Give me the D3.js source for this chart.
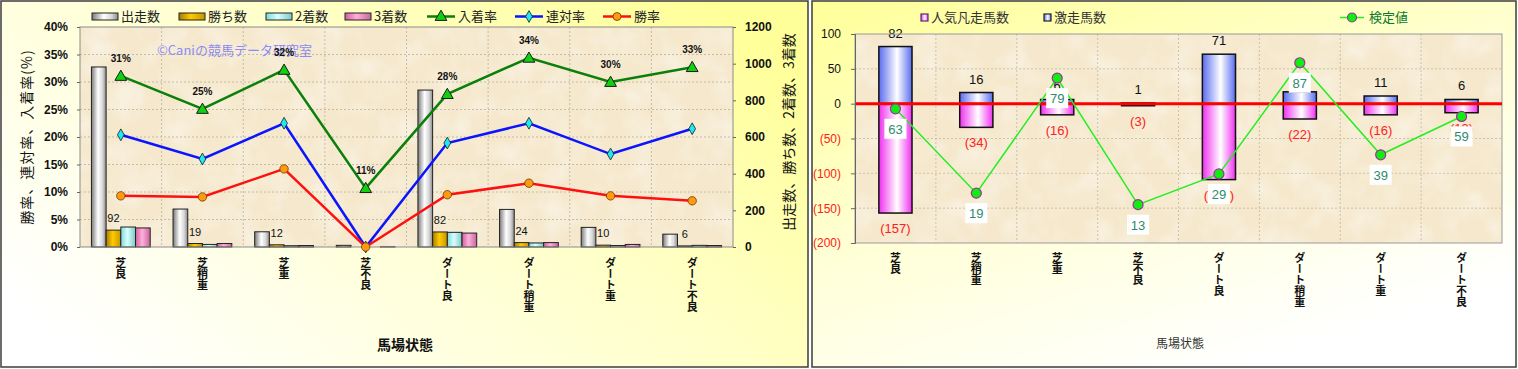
<!DOCTYPE html>
<html>
<head>
<meta charset="utf-8">
<script src="https://cdn.jsdelivr.net/npm/d3@7/dist/d3.min.js"></script>
<style>
  body { margin: 0; background: #ffffff; }
  svg { display: block; }
  text { font-family: "Noto Sans CJK JP", "Liberation Sans", sans-serif; }
  .num { font-family: "Liberation Sans", Arial, sans-serif; }
</style>
</head>
<body>
<svg id="drawing" width="1518" height="369"></svg>
<script>
// categories (馬場状態)
var categories = ["芝良", "芝稍重", "芝重", "芝不良", "ダート良", "ダート稍重", "ダート重", "ダート不良"];

// left chart: counts (right axis)
var runs   = [982, 207, 83, 9, 856, 205, 107, 70];
var wins   = [92, 19, 12, 0, 82, 24, 10, 6];
var second = [109, 14, 7, 0, 80, 22, 8, 9];
var third  = [104, 19, 8, 1, 76, 24, 14, 8];

// left chart: rates (left axis)
var placeRate  = [0.311, 0.251, 0.322, 0.107, 0.278, 0.344, 0.300, 0.327];
var rentaiRate = [0.204, 0.160, 0.225, 0.000, 0.189, 0.225, 0.169, 0.215];
var winRate    = [0.093, 0.091, 0.142, 0.000, 0.095, 0.116, 0.093, 0.084];

var leftTicks  = [0, 0.05, 0.10, 0.15, 0.20, 0.25, 0.30, 0.35, 0.40];
var rightTicks = [0, 200, 400, 600, 800, 1000, 1200];

// right chart
var gekisou = [82, 16, 6, 1, 71, 17, 11, 6];      // 激走馬数
var bonsou  = [157, 34, 16, 3, 109, 22, 16, 13];  // 人気凡走馬数
var kentei  = [63, 19, 79, 13, 29, 87, 39, 59];   // 検定値
var diffTicks = [-200, -150, -100, -50, 0, 50, 100];

var svg = d3.select("#drawing");
var defs = svg.append("defs");

function hGradient(id, stops)
{
  var g = defs.append("linearGradient").attr("id", id)
    .attr("x1", "0").attr("y1", "0").attr("x2", "1").attr("y2", "0");
  stops.forEach(function(s){
    g.append("stop").attr("offset", s[0]).attr("stop-color", s[1]);
  });
}

hGradient("gRuns",   [[0, "#7a7a7a"], [0.45, "#ffffff"], [0.75, "#d8d8d8"], [1, "#8a8a8a"]]);
hGradient("gWins",   [[0, "#a87a00"], [0.45, "#ffcc00"], [1, "#c89400"]]);
hGradient("gSecond", [[0, "#7fd8d8"], [0.45, "#d8ffff"], [1, "#7cc8c8"]]);
hGradient("gThird",  [[0, "#d0609c"], [0.45, "#ffb0dc"], [1, "#c8659a"]]);
hGradient("gBlue",   [[0, "#5a6cf0"], [0.55, "#ffffff"], [1, "#5a6cf0"]]);
hGradient("gPink",   [[0, "#f030f0"], [0.55, "#ffffff"], [1, "#f030f0"]]);

var lg = defs.append("linearGradient").attr("id", "bgLeft")
  .attr("x1", "0").attr("y1", "0.8").attr("x2", "1").attr("y2", "0.2");
lg.append("stop").attr("offset", 0).attr("stop-color", "#ffffff");
lg.append("stop").attr("offset", 0.6).attr("stop-color", "#ffffc8");
lg.append("stop").attr("offset", 1).attr("stop-color", "#ffff99");

var rg = defs.append("linearGradient").attr("id", "bgRight")
  .attr("x1", "0").attr("y1", "0").attr("x2", "0.6").attr("y2", "1");
rg.append("stop").attr("offset", 0).attr("stop-color", "#ffff99");
rg.append("stop").attr("offset", 0.55).attr("stop-color", "#ffffd8");
rg.append("stop").attr("offset", 1).attr("stop-color", "#ffffff");

// parchment texture for plot areas
var paper = defs.append("filter").attr("id", "paper").attr("x", 0).attr("y", 0).attr("width", 1).attr("height", 1);
paper.append("feTurbulence").attr("type", "fractalNoise").attr("baseFrequency", "0.035").attr("numOctaves", 3).attr("seed", 4);
paper.append("feColorMatrix").attr("type", "matrix")
  .attr("values", "0 0 0 0 1  0 0 0 0 1  0 0 0 0 1  2.2 0 0 0 -0.9");

// panels
svg.append("rect").attr("x", 1).attr("y", 1).attr("width", 807).attr("height", 366)
  .attr("fill", "url(#bgLeft)").attr("stroke", "#3c3c3c").attr("stroke-width", 1.5);
svg.append("rect").attr("x", 812).attr("y", 1).attr("width", 704).attr("height", 366)
  .attr("fill", "url(#bgRight)").attr("stroke", "#3c3c3c").attr("stroke-width", 1.5);

function plotArea(x0, y0, x1, y1)
{
  svg.append("rect").attr("x", x0).attr("y", y0).attr("width", x1 - x0).attr("height", y1 - y0)
    .attr("fill", "#f5e8cc");
  svg.append("rect").attr("x", x0).attr("y", y0).attr("width", x1 - x0).attr("height", y1 - y0)
    .attr("filter", "url(#paper)").attr("opacity", 0.4);
}

function vLabels(xs, yTop, size)
{
  svg.append("g").selectAll("text").data(categories).enter().append("text")
    .attr("x", function(d){ return xs(d) + xs.bandwidth() / 2; })
    .attr("y", yTop)
    .attr("style", "writing-mode: vertical-rl; font-weight: bold; font-size:" + size + "px")
    .attr("fill", "#111")
    .text(function(d){ return d; });
}

// ---------------- left chart ----------------
var L = { x0: 80, x1: 733, y0: 27, y1: 247 };
plotArea(L.x0, L.y0, L.x1, L.y1);

var x = d3.scaleBand().domain(categories).range([L.x0, L.x1]);
var yPct = d3.scaleLinear().domain([0, 0.4]).range([L.y1, L.y0]);
var yCnt = d3.scaleLinear().domain([0, 1200]).range([L.y1, L.y0]);

var bw = x.bandwidth();
var barKeys = ["runs", "wins", "second", "third"];
var barData = { runs: runs, wins: wins, second: second, third: third };
var barFill = { runs: "url(#gRuns)", wins: "url(#gWins)", second: "url(#gSecond)", third: "url(#gThird)" };
var sub = d3.scaleBand().domain(barKeys).range([bw * 0.14, bw * 0.86]);

// grid
svg.append("g").selectAll("line").data(leftTicks.slice(1, -1)).enter().append("line")
  .attr("x1", L.x0).attr("x2", L.x1)
  .attr("y1", function(d){ return yPct(d); }).attr("y2", function(d){ return yPct(d); })
  .attr("stroke", "#b8b0a0").attr("stroke-dasharray", "2,2").attr("stroke-width", 0.8);
svg.append("g").selectAll("line").data(categories.slice(1)).enter().append("line")
  .attr("x1", function(d){ return x(d); }).attr("x2", function(d){ return x(d); })
  .attr("y1", L.y0).attr("y2", L.y1)
  .attr("stroke", "#b8b0a0").attr("stroke-dasharray", "2,2").attr("stroke-width", 0.8);

// bars
barKeys.forEach(function(k){
  svg.append("g").selectAll("rect").data(barData[k]).enter().append("rect")
    .attr("x", function(d, i){ return x(categories[i]) + sub(k); })
    .attr("width", sub.bandwidth())
    .attr("y", function(d){ return yCnt(d); })
    .attr("height", function(d){ return L.y1 - yCnt(d); })
    .attr("fill", barFill[k]).attr("stroke", "#222").attr("stroke-width", 1);
});

// win count labels
var winLabels = wins.map(function(d, i){ return { v: d, cat: categories[i] }; })
  .filter(function(d){ return d.v > 0; });
svg.append("g").selectAll("text").data(winLabels).enter().append("text")
  .attr("class", "num")
  .attr("x", function(d){ return x(d.cat) + sub("wins") + sub.bandwidth() / 2; })
  .attr("y", function(d){ return yCnt(d.v) - 8; })
  .attr("text-anchor", "middle").attr("font-size", 11).attr("fill", "#111")
  .text(function(d){ return d.v; });

svg.append("rect").attr("x", L.x0).attr("y", L.y0).attr("width", L.x1 - L.x0).attr("height", L.y1 - L.y0)
  .attr("fill", "none").attr("stroke", "#8c8c8c").attr("stroke-width", 1);

// watermark
svg.append("text").attr("x", 157).attr("y", 55).attr("font-size", 13).attr("fill", "#8c8cf4")
  .text("©Caniの競馬データ研究室");

// lines
var cx = function(i){ return x(categories[i]) + bw / 2; };
var lineGen = d3.line().x(function(d, i){ return cx(i); }).y(function(d){ return yPct(d); });

svg.append("path").datum(placeRate).attr("d", lineGen).attr("fill", "none").attr("stroke", "#0a800a").attr("stroke-width", 2.5);
svg.append("path").datum(rentaiRate).attr("d", lineGen).attr("fill", "none").attr("stroke", "#0a14ff").attr("stroke-width", 2.5);
svg.append("path").datum(winRate).attr("d", lineGen).attr("fill", "none").attr("stroke", "#ff1010").attr("stroke-width", 2.5);

var tri = d3.symbol().type(d3.symbolTriangle).size(60);
var dia = d3.symbol().type(d3.symbolDiamond).size(40);

svg.append("g").selectAll("path").data(placeRate).enter().append("path")
  .attr("d", tri).attr("transform", function(d, i){ return "translate(" + cx(i) + "," + (yPct(d) + 1) + ")"; })
  .attr("fill", "#10d010").attr("stroke", "#1a1a1a").attr("stroke-width", 1);
svg.append("g").selectAll("path").data(rentaiRate).enter().append("path")
  .attr("d", dia).attr("transform", function(d, i){ return "translate(" + cx(i) + "," + yPct(d) + ")"; })
  .attr("fill", "#20e8f0").attr("stroke", "#1a1a1a").attr("stroke-width", 0.8);
svg.append("g").selectAll("circle").data(winRate).enter().append("circle")
  .attr("cx", function(d, i){ return cx(i); }).attr("cy", function(d){ return yPct(d); }).attr("r", 4.2)
  .attr("fill", "#ff9a10").attr("stroke", "#6a3a00").attr("stroke-width", 0.8);

// place rate labels
svg.append("g").selectAll("text").data(placeRate).enter().append("text")
  .attr("class", "num")
  .attr("x", function(d, i){ return cx(i); }).attr("y", function(d){ return yPct(d) - 14; })
  .attr("text-anchor", "middle").attr("font-size", 10).attr("font-weight", "bold").attr("fill", "#111")
  .text(function(d){ return d3.format(".0%")(d); });

// axes
var axL = svg.append("g").attr("transform", "translate(" + L.x0 + ",0)")
  .call(d3.axisLeft(yPct).tickValues(leftTicks).tickFormat(d3.format(".0%")).tickSize(3).tickPadding(9));
axL.select(".domain").remove();
axL.selectAll("text").attr("class", "num").attr("font-size", 12).attr("font-weight", "bold").attr("fill", "#111");
axL.selectAll("line").attr("stroke", "#666");

var axR = svg.append("g").attr("transform", "translate(" + L.x1 + ",0)")
  .call(d3.axisRight(yCnt).tickValues(rightTicks).tickFormat(d3.format("d")).tickSize(3).tickPadding(9));
axR.select(".domain").remove();
axR.selectAll("text").attr("class", "num").attr("font-size", 12).attr("font-weight", "bold").attr("fill", "#111");
axR.selectAll("line").attr("stroke", "#666");

vLabels(x, 257, 11);

svg.append("text").attr("transform", "translate(32,137) rotate(-90)").attr("text-anchor", "middle")
  .attr("font-size", 14).attr("letter-spacing", 1).attr("fill", "#111").text("勝率、連対率、入着率(%)");
svg.append("text").attr("transform", "translate(794,132) rotate(-90)").attr("text-anchor", "middle")
  .attr("font-size", 14).attr("fill", "#111").text("出走数、勝ち数、2着数、3着数");
svg.append("text").attr("x", 405).attr("y", 350).attr("text-anchor", "middle")
  .attr("font-size", 14).attr("font-weight", "bold").attr("fill", "#111").text("馬場状態");

// legend (left)
var legBars = [
  { x: 92,  fill: "url(#gRuns)",   label: "出走数" },
  { x: 179, fill: "url(#gWins)",   label: "勝ち数" },
  { x: 266, fill: "url(#gSecond)", label: "2着数" },
  { x: 345, fill: "url(#gThird)",  label: "3着数" }
];
legBars.forEach(function(d){
  svg.append("rect").attr("x", d.x).attr("y", 13).attr("width", 26).attr("height", 7)
    .attr("fill", d.fill).attr("stroke", "#222").attr("stroke-width", 1);
  svg.append("text").attr("x", d.x + 29).attr("y", 21).attr("font-size", 13).attr("fill", "#222").text(d.label);
});
var legLines = [
  { x: 427, stroke: "#0a800a", label: "入着率", mark: "tri" },
  { x: 515, stroke: "#0a14ff", label: "連対率", mark: "dia" },
  { x: 603, stroke: "#ff1010", label: "勝率",   mark: "dot" }
];
legLines.forEach(function(d){
  svg.append("line").attr("x1", d.x).attr("x2", d.x + 28).attr("y1", 16.5).attr("y2", 16.5)
    .attr("stroke", d.stroke).attr("stroke-width", 2.5);
  if( d.mark == "tri" )
    svg.append("path").attr("d", tri).attr("transform", "translate(" + (d.x + 14) + ",17)")
      .attr("fill", "#10d010").attr("stroke", "#1a1a1a").attr("stroke-width", 1);
  else if( d.mark == "dia" )
    svg.append("path").attr("d", dia).attr("transform", "translate(" + (d.x + 14) + ",16.5)")
      .attr("fill", "#20e8f0").attr("stroke", "#1a1a1a").attr("stroke-width", 0.8);
  else
    svg.append("circle").attr("cx", d.x + 14).attr("cy", 16.5).attr("r", 4)
      .attr("fill", "#ff9a10").attr("stroke", "#6a3a00").attr("stroke-width", 0.8);
  svg.append("text").attr("x", d.x + 31).attr("y", 21).attr("font-size", 13).attr("fill", "#222").text(d.label);
});

// ---------------- right chart ----------------
var R = { x0: 855, x1: 1502, y0: 34, y1: 243 };
plotArea(R.x0, R.y0, R.x1, R.y1);

var x2 = d3.scaleBand().domain(categories).range([R.x0, R.x1]);
var yDiff = d3.scaleLinear().domain([-200, 100]).range([R.y1, R.y0]);
var yK = d3.scaleLinear().domain([-7, 102]).range([R.y1, R.y0]); // hidden secondary axis
var bw2 = x2.bandwidth();
var barW2 = bw2 * 0.41;
var cx2 = function(i){ return x2(categories[i]) + bw2 / 2; };

svg.append("g").selectAll("line").data(diffTicks.slice(1, -1)).enter().append("line")
  .attr("x1", R.x0).attr("x2", R.x1)
  .attr("y1", function(d){ return yDiff(d); }).attr("y2", function(d){ return yDiff(d); })
  .attr("stroke", "#c0b8a8").attr("stroke-dasharray", "2,2").attr("stroke-width", 0.8);
svg.append("g").selectAll("line").data(categories.slice(1)).enter().append("line")
  .attr("x1", function(d){ return x2(d); }).attr("x2", function(d){ return x2(d); })
  .attr("y1", R.y0).attr("y2", R.y1)
  .attr("stroke", "#c0b8a8").attr("stroke-dasharray", "2,2").attr("stroke-width", 0.8);

svg.append("g").selectAll("rect").data(gekisou).enter().append("rect")
  .attr("x", function(d, i){ return cx2(i) - barW2 / 2; }).attr("width", barW2)
  .attr("y", function(d){ return yDiff(d); })
  .attr("height", function(d){ return yDiff(0) - yDiff(d); })
  .attr("fill", "url(#gBlue)").attr("stroke", "#111").attr("stroke-width", 1.5);
svg.append("g").selectAll("rect").data(bonsou).enter().append("rect")
  .attr("x", function(d, i){ return cx2(i) - barW2 / 2; }).attr("width", barW2)
  .attr("y", yDiff(0))
  .attr("height", function(d){ return yDiff(-d) - yDiff(0); })
  .attr("fill", "url(#gPink)").attr("stroke", "#111").attr("stroke-width", 1.5);

svg.append("g").selectAll("text").data(gekisou).enter().append("text")
  .attr("class", "num")
  .attr("x", function(d, i){ return cx2(i); }).attr("y", function(d){ return yDiff(d) - 9; })
  .attr("text-anchor", "middle").attr("font-size", 13).attr("fill", "#111")
  .text(function(d){ return d; });
svg.append("g").selectAll("text").data(bonsou).enter().append("text")
  .attr("class", "num")
  .attr("x", function(d, i){ return cx2(i); }).attr("y", function(d){ return yDiff(-d) + 20; })
  .attr("text-anchor", "middle").attr("font-size", 13).attr("fill", "#ff2020")
  .text(function(d){ return "(" + d + ")"; });

svg.append("rect").attr("x", R.x0).attr("y", R.y0).attr("width", R.x1 - R.x0).attr("height", R.y1 - R.y0)
  .attr("fill", "none").attr("stroke", "#9a9a9a").attr("stroke-width", 1);

svg.append("line").attr("x1", R.x0).attr("x2", R.x1).attr("y1", yDiff(0)).attr("y2", yDiff(0))
  .attr("stroke", "#ff0000").attr("stroke-width", 3);

var kLine = d3.line().x(function(d, i){ return cx2(i); }).y(function(d){ return yK(d); });
svg.append("path").datum(kentei).attr("d", kLine).attr("fill", "none").attr("stroke", "#22ee22").attr("stroke-width", 1.5);
svg.append("g").selectAll("circle").data(kentei).enter().append("circle")
  .attr("cx", function(d, i){ return cx2(i); }).attr("cy", function(d){ return yK(d); }).attr("r", 5)
  .attr("fill", "#10ee10").attr("stroke", "#993399").attr("stroke-width", 1.2);

var kl = svg.append("g").selectAll("g").data(kentei).enter().append("g")
  .attr("transform", function(d, i){ return "translate(" + cx2(i) + "," + (yK(d) + 20) + ")"; });
kl.append("rect").attr("x", -11).attr("y", -10).attr("width", 22).attr("height", 20).attr("fill", "#ffffff");
kl.append("text").attr("class", "num").attr("y", 5).attr("text-anchor", "middle").attr("font-size", 13)
  .attr("fill", "#2e8a6c").text(function(d){ return d; });

var axD = svg.append("g").attr("transform", "translate(" + R.x0 + ",0)")
  .call(d3.axisLeft(yDiff).tickValues(diffTicks).tickSize(4).tickPadding(10)
    .tickFormat(function(d){ return d < 0 ? "(" + (-d) + ")" : d; }));
axD.select(".domain").attr("stroke", "#666");
axD.selectAll("line").attr("stroke", "#666");
axD.selectAll("text").attr("class", "num").attr("font-size", 12)
  .attr("fill", function(d){ return d < 0 ? "#ff2020" : "#111"; });

vLabels(x2, 252, 11);

svg.append("text").attr("x", 1180).attr("y", 348).attr("text-anchor", "middle")
  .attr("font-size", 12).attr("fill", "#333").text("馬場状態");

// legend (right)
svg.append("rect").attr("x", 921).attr("y", 14).attr("width", 7).attr("height", 7)
  .attr("fill", "url(#gPink)").attr("stroke", "#5a2a6a").attr("stroke-width", 1.2);
svg.append("text").attr("x", 931).attr("y", 22).attr("font-size", 13).attr("fill", "#333").text("人気凡走馬数");
svg.append("rect").attr("x", 1044).attr("y", 14).attr("width", 7).attr("height", 7)
  .attr("fill", "url(#gBlue)").attr("stroke", "#222").attr("stroke-width", 1.2);
svg.append("text").attr("x", 1054).attr("y", 22).attr("font-size", 13).attr("fill", "#333").text("激走馬数");
svg.append("line").attr("x1", 1340).attr("x2", 1364).attr("y1", 17.5).attr("y2", 17.5)
  .attr("stroke", "#22ee22").attr("stroke-width", 1.5);
svg.append("circle").attr("cx", 1352).attr("cy", 17.5).attr("r", 4.5)
  .attr("fill", "#10ee10").attr("stroke", "#993399").attr("stroke-width", 1.2);
svg.append("text").attr("x", 1369).attr("y", 22).attr("font-size", 13).attr("fill", "#0a7a2a").text("検定値");
</script>
</body>
</html>
